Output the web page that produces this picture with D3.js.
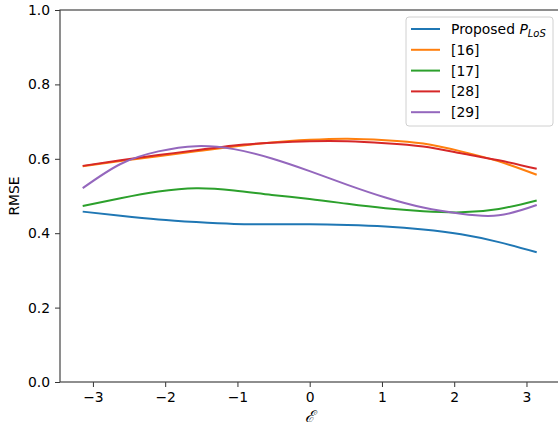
<!DOCTYPE html>
<html>
<head>
<meta charset="utf-8">
<script src="https://cdn.jsdelivr.net/npm/d3@7"></script>
<style>
    body { margin: 0; background: white; }
    svg { display: block; font-family: "DejaVu Sans", sans-serif; }
</style>
</head>
<body>
<svg width="558" height="427"></svg>
<script>
// epsilon sampled from -pi to pi (step pi/6)
const epsilon = d3.range(13).map(i => -Math.PI + i * Math.PI / 6);

const proposed = [0.458, 0.447, 0.437, 0.430, 0.425, 0.424, 0.424, 0.422, 0.418, 0.410, 0.397, 0.376, 0.349];
const ref16 = [0.580, 0.594, 0.607, 0.620, 0.633, 0.644, 0.651, 0.654, 0.650, 0.641, 0.620, 0.593, 0.557];
const ref17 = [0.473, 0.494, 0.512, 0.521, 0.515, 0.503, 0.492, 0.479, 0.467, 0.459, 0.456, 0.465, 0.488];
const ref28 = [0.581, 0.596, 0.610, 0.623, 0.636, 0.643, 0.647, 0.647, 0.642, 0.633, 0.615, 0.596, 0.573];
const ref29 = [0.521, 0.586, 0.620, 0.634, 0.626, 0.601, 0.567, 0.530, 0.496, 0.469, 0.452, 0.448, 0.476];

const seriesNames = ['Proposed', '[16]', '[17]', '[28]', '[29]'];
const colors = ['#1f77b4', '#ff7f0e', '#2ca02c', '#d62728', '#9467bd'];
const xTicks = [-3, -2, -1, 0, 1, 2, 3];
const yTicks = [0, 0.2, 0.4, 0.6, 0.8, 1.0];

const series = [proposed, ref16, ref17, ref28, ref29];

const svg = d3.select('svg');
const mLeft = 60, mTop = 10, w = 499.4, h = 372;
const pad = 2 * Math.PI * 0.05;

const x = d3.scaleLinear().domain([-Math.PI - pad, Math.PI + pad]).range([mLeft, mLeft + w]);
const y = d3.scaleLinear().domain([0, 1]).range([mTop + h, mTop]);

const plot = svg.append('g');

const line = d3.line()
    .x((d, i) => x(epsilon[i]))
    .y(d => y(d))
    .curve(d3.curveNatural);

plot.selectAll('path.serie')
    .data(series)
    .join('path')
    .attr('class', 'serie')
    .attr('d', d => line(d))
    .attr('fill', 'none')
    .attr('stroke', (d, i) => colors[i])
    .attr('stroke-width', 2);

// axes
const xAxis = svg.append('g')
    .attr('transform', `translate(0, ${mTop + h})`)
    .call(d3.axisBottom(x).tickValues(xTicks).tickFormat(d3.format('d')).tickSize(5).tickPadding(5));
const yAxis = svg.append('g')
    .attr('transform', `translate(${mLeft}, 0)`)
    .call(d3.axisLeft(y).tickValues(yTicks).tickFormat(d3.format('.1f')).tickSize(5).tickPadding(5));

[xAxis, yAxis].forEach(a => {
    a.select('.domain').remove();
    a.selectAll('line').attr('stroke', '#333').attr('stroke-width', 1);
    a.selectAll('text').attr('font-size', 13.9).attr('fill', '#000').attr('font-family', 'DejaVu Sans');
});

// spines
svg.append('rect')
    .attr('x', mLeft)
    .attr('y', mTop)
    .attr('width', w)
    .attr('height', h)
    .attr('fill', 'none')
    .attr('stroke', '#444')
    .attr('stroke-width', 1.2);

// axis titles
svg.append('text')
    .text('RMSE')
    .attr('transform', `translate(19, ${mTop + h / 2}) rotate(-90)`)
    .attr('text-anchor', 'middle')
    .attr('font-size', 13.9);

svg.append('text')
    .text('ℰ')
    .attr('x', x(0))
    .attr('y', 422)
    .attr('text-anchor', 'middle')
    .attr('font-family', 'DejaVu Serif')
    .attr('font-style', 'italic')
    .attr('font-size', 16);

// legend
const legend = svg.append('g').attr('transform', 'translate(406, 17)');
legend.append('rect')
    .attr('width', 147)
    .attr('height', 109)
    .attr('rx', 3)
    .attr('fill', 'white')
    .attr('fill-opacity', 0.8)
    .attr('stroke', '#d0d0d0');

const item = legend.selectAll('g.item')
    .data(seriesNames)
    .join('g')
    .attr('class', 'item')
    .attr('transform', (d, i) => `translate(0, ${12 + i * 20.8})`);

item.append('line')
    .attr('x1', 5)
    .attr('x2', 34)
    .attr('stroke', (d, i) => colors[i])
    .attr('stroke-width', 2);

const label = item.append('text')
    .attr('x', 45)
    .attr('y', 5)
    .attr('font-size', 13.9);

label.each(function (d, i) {
    const t = d3.select(this);
    if (i == 0) {
        t.append('tspan').text('Proposed ');
        t.append('tspan').text('P').attr('font-style', 'italic');
        t.append('tspan').text('LoS').attr('font-style', 'italic').attr('font-size', 10).attr('dy', 3);
    } else {
        t.text(d);
    }
});
</script>
</body>
</html>
